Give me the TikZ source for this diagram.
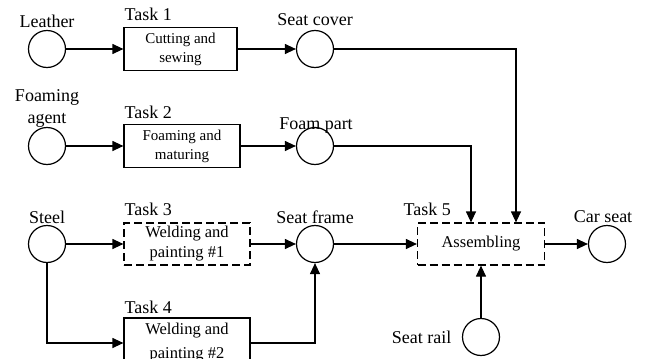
\documentclass[tikz,border=0pt]{standalone}
\usepackage{fontspec}
\setmainfont{Liberation Serif}
\usetikzlibrary{arrows.meta}

\tikzset{
  place/.style={draw, circle, minimum size=37pt, inner sep=0pt},
  task/.style={draw, rectangle, align=center, inner sep=0pt, font=\fontsize{15}{19}\selectfont},
  opt/.style={dash pattern=on 8pt off 4pt},
  lbl/.style={inner sep=0pt, font=\fontsize{18}{22}\selectfont},
  flow/.style={-{Triangle[length=11pt, width=10pt]}},
}

\begin{document}
\begin{tikzpicture}[x=1pt, y=-1pt, line width=1.2pt]

\useasboundingbox (0,0) rectangle (646,359);
\clip (0,0) rectangle (646,359);

% raw materials
\node[place] (leather)  at (47,49)   {};
\node[place] (agent)    at (47,146)  {};
\node[place] (steel)    at (47,244)  {};
\node[place] (seatrail) at (481,337) {};

% parts and product
\node[place] (seatcover) at (315,49)  {};
\node[place] (foampart)  at (315,146) {};
\node[place] (seatframe) at (315,244) {};
\node[place] (carseat)   at (607,244) {};

% tasks
\node[task, minimum width=113pt, minimum height=43pt] (task1) at (180.5,49) {Cutting and\\sewing};
\node[task, minimum width=116pt, minimum height=43pt] (task2) at (182,146) {Foaming and\\maturing};
\node[task, opt, minimum width=126pt, minimum height=42pt, font=\fontsize{16.5}{20}\selectfont] (task3) at (187,244) {Welding and\\painting \#1};
\node[task, minimum width=126pt, minimum height=50pt, font=\fontsize{16.5}{24}\selectfont] (task4) at (187,343) {Welding and\\painting \#2};
\node[task, opt, minimum width=127pt, minimum height=42pt, font=\fontsize{16.5}{20}\selectfont] (task5) at (481,244) {Assembling};

% labels
\node[lbl, anchor=base] (leatherlbl) at (47,27) {Leather};
\node[lbl, anchor=south, align=center] (agentlbl) at (47,128) {Foaming\\agent};
\node[lbl, anchor=base] (steellbl) at (47,223) {Steel};
\node[lbl, anchor=base east] (seatraillbl) at (452,343) {Seat rail};
\node[lbl, anchor=base] (seatcoverlbl) at (315,25) {Seat cover};
\node[lbl, anchor=base] (foampartlbl) at (316,129) {Foam part};
\node[lbl, anchor=base] (seatframelbl) at (315,223) {Seat frame};
\node[lbl, anchor=base] (carseatlbl) at (603,222) {Car seat};

\node[lbl, anchor=base west] (task1lbl) at (124,20)  {Task 1};
\node[lbl, anchor=base west] (task2lbl) at (124,118) {Task 2};
\node[lbl, anchor=base west] (task3lbl) at (124,215) {Task 3};
\node[lbl, anchor=base west] (task4lbl) at (124,313) {Task 4};
\node[lbl, anchor=base west] (task5lbl) at (403,215) {Task 5};

% flows
\draw[flow] (leather) -- (task1);
\draw[flow] (task1) -- (seatcover);
\draw[flow] (agent) -- (task2);
\draw[flow] (task2) -- (foampart);
\draw[flow] (steel) -- (task3);
\draw[flow] (task3) -- (seatframe);
\draw[flow] (steel) |- (task4);
\draw[flow] (task4) -| (seatframe);
\draw[flow] (seatframe) -- (task5);
\draw[flow] (seatcover) -| ([xshift=35pt]task5.north);
\draw[flow] (foampart) -| ([xshift=-10pt]task5.north);
\draw[flow] (seatrail) -- (task5);
\draw[flow] (task5) -- (carseat);

\end{tikzpicture}
\end{document}
